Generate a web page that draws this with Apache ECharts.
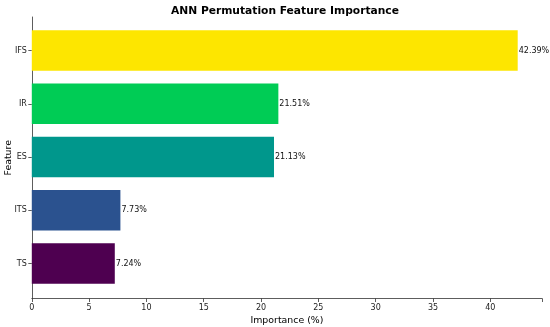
<!DOCTYPE html>
<html><head><meta charset="utf-8">
<script src="https://cdn.jsdelivr.net/npm/echarts@6/dist/echarts.min.js"></script>
<style>html,body{margin:0;padding:0;background:#fff}#c{width:550px;height:327px}</style>
</head><body><div id="c"></div>
<script>
const categories = ['IFS', 'IR', 'ES', 'ITS', 'TS'];
const values = [42.39, 21.51, 21.13, 7.73, 7.24];
const colors = ['#FDE600', '#00CC55', '#00978C', '#2B528F', '#4E0050'];
const xTicks = [0, 5, 10, 15, 20, 25, 30, 35, 40];
const xMax = 44.51;

const chart = echarts.init(document.getElementById('c'), null, {renderer: 'canvas'});
const font = 'DejaVu Sans';
const L = 31.8, R = 8;
chart.setOption({
  animation: false,
  backgroundColor: '#fff',
  title: {
    text: 'ANN Permutation Feature Importance',
    left: 166, top: 1,
    textStyle: {fontFamily: font, fontWeight: 'bold', fontSize: 10.7, color: '#000'}
  },
  grid: [
    {left: L, right: R, top: 23.9, bottom: 36.9, containLabel: false, outerBoundsMode: 'none'},
    {left: L, right: R, top: 17, bottom: 28.5, containLabel: false, outerBoundsMode: 'none'}
  ],
  xAxis: [
    {gridIndex: 0, type: 'value', min: 0, max: xMax, show: false},
    {gridIndex: 1, type: 'value', min: 0, max: xMax, interval: 5,
     name: 'Importance (%)', nameLocation: 'middle', nameGap: 16,
     nameTextStyle: {fontFamily: font, fontSize: 9.4, color: '#000'},
     axisLine: {show: true, lineStyle: {color: '#333', width: 0.8}},
     axisTick: {show: true, length: 3.5, lineStyle: {color: '#333', width: 0.8}},
     axisLabel: {fontFamily: font, fontSize: 8, color: '#222', margin: 5, hideOverlap: false,
       customValues: xTicks},
     splitLine: {show: false}}
  ],
  yAxis: [
    {gridIndex: 0, type: 'category', data: categories, inverse: true,
     axisLine: {show: false},
     axisTick: {show: true, alignWithLabel: true, length: 3.5, lineStyle: {color: '#333', width: 0.8}},
     axisLabel: {fontFamily: font, fontSize: 8, color: '#222', margin: 5},
     splitLine: {show: false}},
    {gridIndex: 1, type: 'value', min: 0, max: 1,
     name: 'Feature', nameLocation: 'middle', nameGap: 19, nameRotate: 90,
     nameTextStyle: {fontFamily: font, fontSize: 9.4, color: '#000'},
     axisLine: {show: true, lineStyle: {color: '#333', width: 0.8}},
     axisTick: {show: false}, axisLabel: {show: false}, splitLine: {show: false}}
  ],
  series: [{
    type: 'bar', xAxisIndex: 0, yAxisIndex: 0,
    barCategoryGap: '24%',
    data: values.map((v, i) => ({value: v, itemStyle: {color: colors[i]}})),
    label: {show: true, position: 'right', distance: 1,
      fontFamily: font, fontSize: 8, color: '#111',
      formatter: p => p.value.toFixed(2) + '%'}
  }]
});
</script></body></html>
